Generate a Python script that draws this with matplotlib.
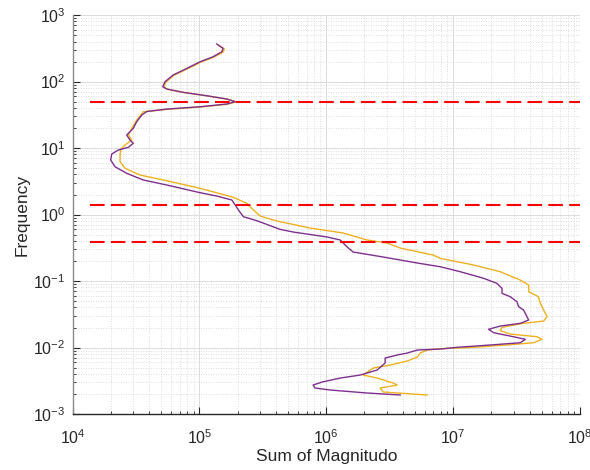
import numpy as np
import matplotlib
matplotlib.use("Agg")
import matplotlib.pyplot as plt
from matplotlib.ticker import LogLocator, LogFormatterSciNotation, NullFormatter

plt.rcParams['font.family'] = ['Liberation Sans', 'DejaVu Sans']
plt.rcParams['mathtext.fontset'] = 'custom'
plt.rcParams['mathtext.rm'] = 'Liberation Sans'
plt.rcParams['mathtext.it'] = 'Liberation Sans:italic'
plt.rcParams['mathtext.default'] = 'regular'

# ---- data (stored as log10 values) ----
purple_log_mag = [5.137, 5.187, 5.177, 5.108, 5.006, 4.901, 4.793, 4.729, 4.711, 4.743,
                  4.871, 5.058, 5.216, 5.282, 5.216, 5.006, 4.743, 4.585, 4.546, 4.506,
                  4.479, 4.427, 4.453, 4.479, 4.440, 4.361, 4.309, 4.301, 4.335, 4.427,
                  4.558, 4.743, 5.006, 5.137, 5.256, 5.282, 5.308, 5.347, 5.453, 5.636,
                  5.739, 6.007, 6.110, 6.165, 6.212, 6.449, 6.717, 6.898, 7.056, 7.240,
                  7.345, 7.385, 7.385, 7.450, 7.503, 7.516, 7.555, 7.582, 7.595, 7.529,
                  7.371, 7.279, 7.319, 7.476, 7.569, 7.529, 7.293, 7.030, 6.898, 6.717,
                  6.638, 6.559, 6.464, 6.464, 6.401, 6.267, 6.110, 5.968, 5.896, 5.912,
                  6.031, 6.322, 6.583]
purple_log_freq = [2.564, 2.499, 2.448, 2.373, 2.298, 2.198, 2.098, 1.997, 1.922, 1.887,
                   1.838, 1.786, 1.737, 1.696, 1.662, 1.621, 1.586, 1.549, 1.496, 1.396,
                   1.296, 1.195, 1.120, 1.071, 1.011, 0.970, 0.910, 0.820, 0.719, 0.620,
                   0.519, 0.444, 0.328, 0.278, 0.218, 0.143, 0.068, -0.033, -0.093, -0.223,
                   -0.263, -0.338, -0.383, -0.489, -0.564, -0.639, -0.729, -0.785, -0.860, -0.959,
                   -1.035, -1.110, -1.185, -1.236, -1.311, -1.386, -1.436, -1.537, -1.586, -1.636,
                   -1.677, -1.726, -1.777, -1.838, -1.877, -1.928, -1.962, -1.997, -2.023, -2.038,
                   -2.083, -2.113, -2.158, -2.233, -2.338, -2.414, -2.459, -2.519, -2.564, -2.609,
                   -2.639, -2.684, -2.714]

orange_log_mag = [5.150, 5.197, 5.185, 5.116, 5.013, 4.911, 4.800, 4.737, 4.719, 4.753,
                  4.879, 5.066, 5.224, 5.289, 5.224, 5.013, 4.753, 4.558, 4.506, 4.467,
                  4.440, 4.467, 4.414, 4.380, 4.375, 4.375, 4.414, 4.532, 4.743, 5.006,
                  5.268, 5.374, 5.426, 5.479, 5.584, 5.636, 5.873, 6.133, 6.322, 6.480,
                  6.583, 6.843, 6.898, 7.161, 7.371, 7.529, 7.595, 7.595, 7.673, 7.687,
                  7.713, 7.740, 7.713, 7.555, 7.385, 7.371, 7.450, 7.661, 7.700, 7.634,
                  7.424, 7.161, 6.898, 6.796, 6.741, 6.717, 6.638, 6.504, 6.370, 6.291,
                  6.401, 6.528, 6.559, 6.425, 6.449, 6.796]
orange_log_freq = [2.549, 2.489, 2.439, 2.368, 2.293, 2.195, 2.095, 1.992, 1.917, 1.883,
                   1.835, 1.783, 1.734, 1.695, 1.659, 1.618, 1.583, 1.546, 1.421, 1.296,
                   1.195, 1.120, 1.045, 0.980, 0.895, 0.794, 0.695, 0.594, 0.508, 0.394,
                   0.259, 0.168, 0.068, -0.023, -0.083, -0.108, -0.203, -0.278, -0.383, -0.429,
                   -0.504, -0.609, -0.659, -0.759, -0.860, -0.985, -1.060, -1.161, -1.236, -1.335,
                   -1.436, -1.537, -1.602, -1.636, -1.696, -1.747, -1.797, -1.838, -1.877, -1.928,
                   -1.962, -1.997, -2.018, -2.038, -2.083, -2.143, -2.203, -2.263, -2.308, -2.414,
                   -2.459, -2.534, -2.564, -2.609, -2.669, -2.714]

threshold_freqs = [50, 1.37, 0.39]
threshold_x_range = [1.37e4, 1e8]

xlim = [1e4, 1e8]
ylim = [1e-3, 1e3]

purple_mag = 10 ** np.array(purple_log_mag)
purple_freq = 10 ** np.array(purple_log_freq)
orange_mag = 10 ** np.array(orange_log_mag)
orange_freq = 10 ** np.array(orange_log_freq)

# ---- figure ----
fig = plt.figure(figsize=(5.9, 4.7), dpi=100)
ax = fig.add_axes([0.1229, 0.1191, 0.8602, 0.8489])

ax.plot(orange_mag, orange_freq, color='#EDB120', lw=1.0, zorder=3,
        solid_joinstyle='round')
ax.plot(purple_mag, purple_freq, color='#7E2F8E', lw=1.0, zorder=4,
        solid_joinstyle='round')
for f in threshold_freqs:
    ax.plot(threshold_x_range, [f, f], color='#FF0000', lw=1.5,
            dashes=(7, 3), zorder=5)

ax.set_xscale('log')
ax.set_yscale('log')
ax.set_xlim(xlim)
ax.set_ylim(ylim)

ax.xaxis.set_major_locator(LogLocator(base=10, numticks=10))
ax.yaxis.set_major_locator(LogLocator(base=10, numticks=10))
ax.xaxis.set_minor_locator(LogLocator(base=10, subs=np.arange(2, 10), numticks=20))
ax.yaxis.set_minor_locator(LogLocator(base=10, subs=np.arange(2, 10), numticks=20))
ax.xaxis.set_minor_formatter(NullFormatter())
ax.yaxis.set_minor_formatter(NullFormatter())
ax.xaxis.set_major_formatter(LogFormatterSciNotation())
ax.yaxis.set_major_formatter(LogFormatterSciNotation())

ax.grid(True, which='major', color='#dcdcdc', lw=0.7, ls='-', zorder=0)
ax.grid(True, which='minor', color='#d0d0d0', lw=0.6, ls=(0, (1, 2)), zorder=0)
ax.set_axisbelow(True)

for s in ['top', 'right']:
    ax.spines[s].set_visible(False)
ax.spines['left'].set_color('#8a8a8a')
ax.spines['bottom'].set_color('#262626')
ax.spines['left'].set_linewidth(1.0)
ax.spines['bottom'].set_linewidth(1.0)

ax.tick_params(which='both', direction='in', colors='#262626', labelcolor='#262626',
               top=False, right=False)
ax.tick_params(which='major', length=5, width=0.8, labelsize=11.5)
ax.tick_params(which='minor', length=2.5, width=0.6)
ax.tick_params(axis='x', which='major', pad=10)
ax.tick_params(axis='y', which='major', pad=5)

ax.set_xlabel('Sum of Magnitudo', fontsize=12.5, color='#262626', labelpad=2)
ax.set_ylabel('Frequency', fontsize=12.5, color='#262626', labelpad=3)

fig.savefig('out.png', dpi=100, facecolor='white')
